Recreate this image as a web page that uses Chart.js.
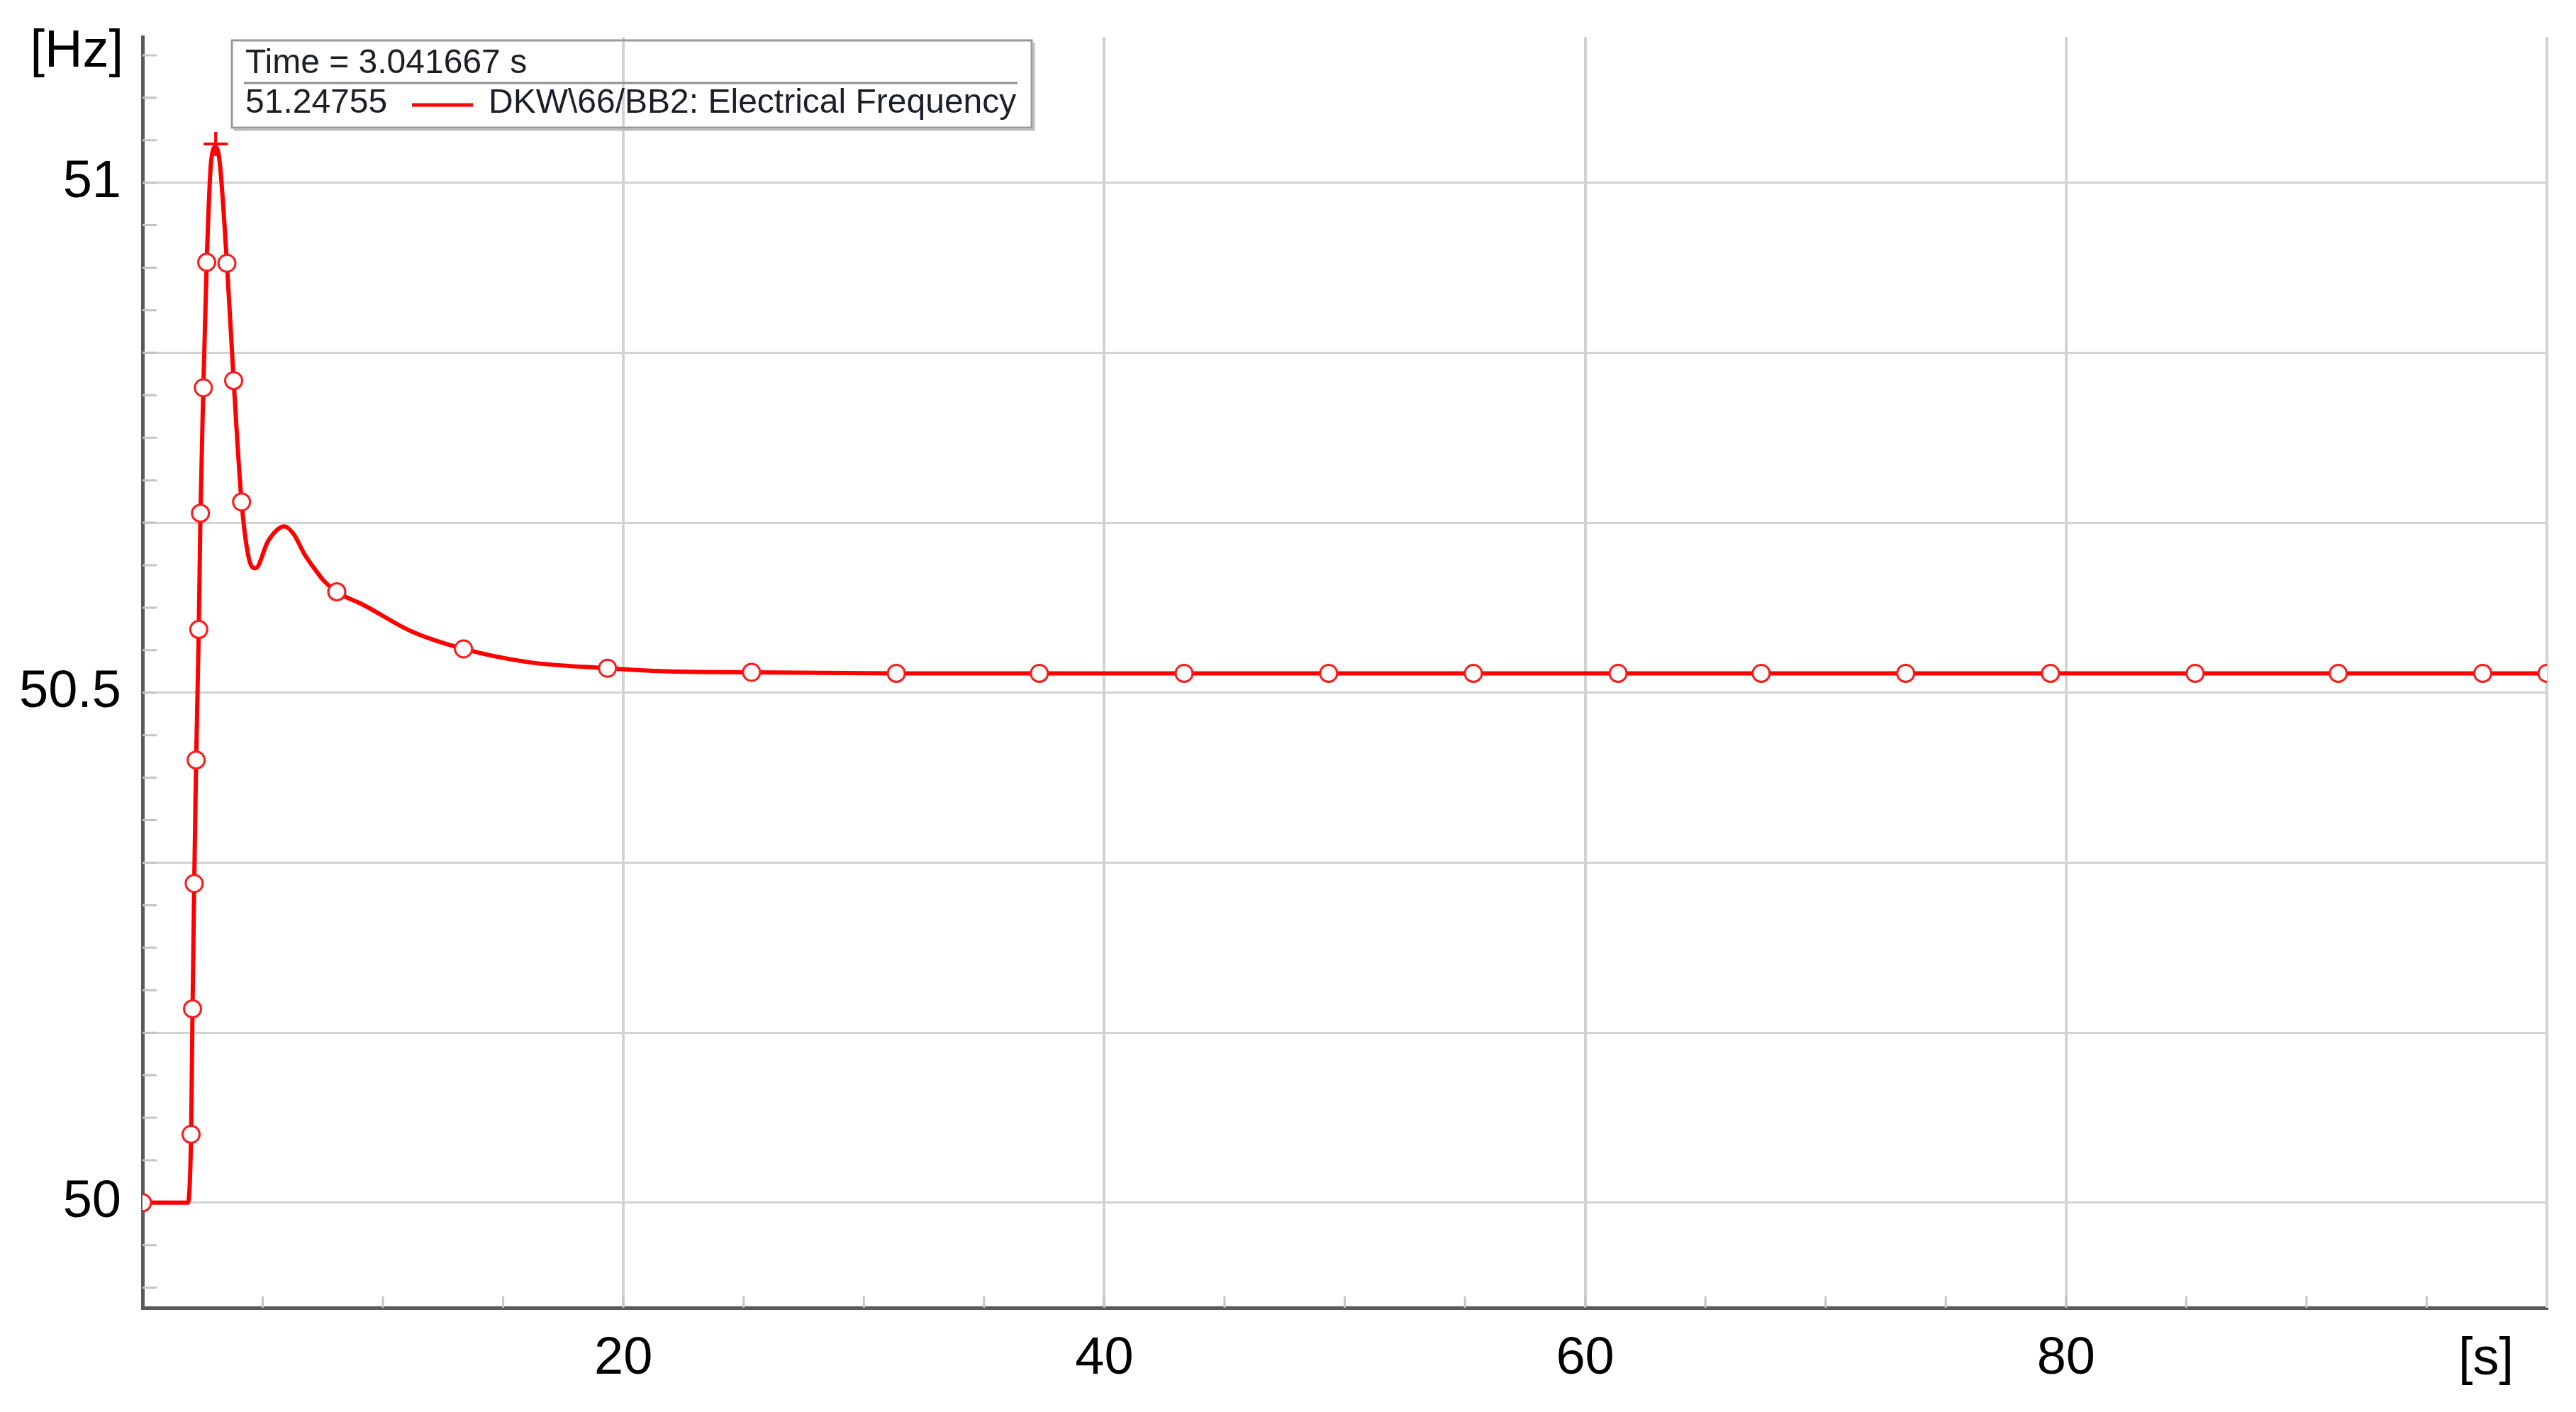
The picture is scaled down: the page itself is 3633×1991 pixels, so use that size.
<!DOCTYPE html>
<html>
<head>
<meta charset="utf-8">
<title>DKW\66/BB2 Electrical Frequency</title>
<script src="https://cdn.jsdelivr.net/npm/chart.js@4.4.1/dist/chart.umd.min.js"></script>
<style>
  html, body { margin: 0; padding: 0; background: #fff; }
  #wrap { width: 3633px; height: 1991px; position: relative; }
</style>
</head>
<body>
<div id="wrap"><canvas id="chart"></canvas></div>
<script>
// Curve (time in s, frequency in Hz).
const timeS = [
  0, 1.88, 2.02, 2.08, 2.15, 2.23, 2.34, 2.41, 2.53, 2.67, 2.85, 3.04,
  3.21, 3.51, 3.79, 4.12, 4.42, 4.70, 5.23, 5.90, 6.30, 6.73, 7.20, 7.57,
  8.08, 9.27, 11.2, 13.35, 16.04, 19.34, 21.69, 25.32, 31.3, 100,
];
const freqHz = [
  50.0, 50.0, 50.067, 50.19, 50.313, 50.434, 50.562, 50.676, 50.799, 50.922, 51.02, 51.035,
  51.02, 50.921, 50.806, 50.687, 50.632, 50.622, 50.649, 50.663, 50.655, 50.636, 50.620, 50.609,
  50.599, 50.585, 50.560, 50.543, 50.530, 50.524, 50.521, 50.520, 50.519, 50.519,
];

// Hollow curve symbols as placed on the plot.
const markerTimeS = [
  0, 2.02, 2.08, 2.15, 2.23, 2.34, 2.41, 2.53, 2.67, 3.51, 3.79, 4.12,
  8.08, 13.35, 19.34, 25.33, 31.35, 37.30, 43.32, 49.33, 55.35, 61.37,
  67.32, 73.33, 79.35, 85.37, 91.32, 97.33, 100,
];
const markerFreqHz = [
  50.0, 50.067, 50.19, 50.313, 50.434, 50.562, 50.676, 50.799, 50.922, 50.921, 50.806, 50.687,
  50.599, 50.543, 50.524, 50.520, 50.519, 50.519, 50.519, 50.519, 50.519, 50.519,
  50.519, 50.519, 50.519, 50.519, 50.519, 50.519, 50.519,
];

// Cursor ("+") and its readout box.
const cursorTime = 3.041667;
const cursorFreq = 51.038;
const cursorText = "Time = 3.041667 s";
const cursorValueText = "51.24755";
const seriesName = "DKW\\66/BB2: Electrical Frequency";

const xLabelTicks = [20, 40, 60, 80];
const yLabelTicks = [50, 50.5, 51];
const xUnit = "[s]";
const yUnit = "[Hz]";

const X_MIN = 0, X_MAX = 100;
const Y_MIN = 49.897, Y_MAX = 51.143;

const RED = "#ff0000";
const GRID = "#d3d3d3";
const AXIS_FONT = "'Liberation Sans Narrow', 'Liberation Sans', Arial, sans-serif";
const BOX_FONT = "'Liberation Sans', Arial, sans-serif";
const AXIS_SIZE = 74;

// y: minor step is 1/24 Hz, every 4th one carries a grid line
const yStepIndex = (v) => Math.round((v - 50) * 24);

// keep the plot frame fixed, no extra room for edge labels
const noEdgePadding = (s) => {
  s.paddingTop = 0;
  s.paddingBottom = 0;
  s.paddingLeft = 0;
  s.paddingRight = 0;
};

const extras = {
  id: "extras",
  beforeDatasetsDraw(chart) {
    const { ctx, chartArea: a, scales } = chart;
    ctx.save();
    ctx.strokeStyle = "#c4c4c4";
    ctx.lineWidth = 3;
    ctx.beginPath();
    scales.y.ticks.forEach((t) => {
      const y = scales.y.getPixelForValue(t.value);
      ctx.moveTo(a.left, y);
      ctx.lineTo(a.left + 20, y);
    });
    scales.x.ticks.forEach((t) => {
      if (t.value <= X_MIN || t.value >= X_MAX) return;
      const x = scales.x.getPixelForValue(t.value);
      ctx.moveTo(x, a.bottom);
      ctx.lineTo(x, a.bottom - 16);
    });
    ctx.stroke();
    // right frame edge
    ctx.strokeStyle = GRID;
    ctx.lineWidth = 4;
    ctx.beginPath();
    ctx.moveTo(a.right, a.top);
    ctx.lineTo(a.right, a.bottom);
    ctx.stroke();
    ctx.restore();
  },
  afterDraw(chart) {
    const { ctx, chartArea: a } = chart;
    ctx.save();
    // unit labels
    ctx.fillStyle = "#000";
    ctx.font = AXIS_SIZE + "px " + AXIS_FONT;
    ctx.textBaseline = "middle";
    ctx.textAlign = "right";
    ctx.fillText(yUnit, a.left - 27, a.top + 22);
    ctx.textAlign = "center";
    ctx.fillText(xUnit, a.right - 86, a.bottom + 74);

    // cursor readout box
    const bx = a.left + 126, by = a.top + 5, bw = 1128, bh = 123;
    ctx.strokeStyle = "#9a9a9a";
    ctx.lineWidth = 3;
    ctx.strokeRect(bx, by, bw, bh);
    ctx.strokeStyle = "#bdbdbd";
    ctx.beginPath();
    ctx.moveTo(bx + 3, by + bh + 3);
    ctx.lineTo(bx + bw + 3, by + bh + 3);
    ctx.lineTo(bx + bw + 3, by + 3);
    ctx.stroke();

    ctx.strokeStyle = "#8f8f8f";
    ctx.lineWidth = 3;
    ctx.beginPath();
    ctx.moveTo(bx + 17, by + 60);
    ctx.lineTo(bx + bw - 20, by + 60);
    ctx.stroke();

    ctx.fillStyle = "#1e1e28";
    ctx.font = "48px " + BOX_FONT;
    ctx.textAlign = "left";
    ctx.textBaseline = "alphabetic";
    ctx.fillText(cursorText, bx + 19, by + 46);
    ctx.fillText(cursorValueText, bx + 19, by + 102);
    ctx.fillText(seriesName, bx + 362, by + 102);

    ctx.strokeStyle = RED;
    ctx.lineWidth = 5;
    ctx.beginPath();
    ctx.moveTo(bx + 254, by + 91);
    ctx.lineTo(bx + 340, by + 91);
    ctx.stroke();
    ctx.restore();
  },
};

const toPoints = (xs, ys) => xs.map((x, i) => ({ x, y: ys[i] }));

new Chart(document.getElementById("chart"), {
  type: "scatter",
  data: {
    datasets: [
      {
        label: "cursor",
        data: [{ x: cursorTime, y: cursorFreq }],
        pointStyle: "cross",
        pointRadius: 17,
        pointBorderWidth: 4,
        pointBorderColor: RED,
        order: 0,
      },
      {
        label: "symbols",
        data: toPoints(markerTimeS, markerFreqHz),
        showLine: false,
        pointRadius: 12,
        pointBorderWidth: 3,
        pointBorderColor: "#ff1a1a",
        pointBackgroundColor: "#ffffff",
        clip: 0,
        order: 1,
      },
      {
        label: seriesName,
        data: toPoints(timeS, freqHz),
        showLine: true,
        borderColor: RED,
        borderWidth: 6,
        pointRadius: 0,
        cubicInterpolationMode: "monotone",
        order: 2,
      },
    ],
  },
  options: {
    responsive: true,
    maintainAspectRatio: false,
    animation: false,
    devicePixelRatio: 1,
    layout: { padding: { top: 52, right: 41, left: 0, bottom: 0 } },
    plugins: {
      legend: { display: false },
      tooltip: { enabled: false },
    },
    scales: {
      x: {
        type: "linear",
        min: X_MIN,
        max: X_MAX,
        afterBuildTicks: (s) => {
          const ticks = [];
          for (let v = X_MIN; v <= X_MAX; v += 5) ticks.push({ value: v });
          s.ticks = ticks;
        },
        afterFit: (s) => { s.height = 147; noEdgePadding(s); },
        border: { color: "#5a5a5a", width: 5 },
        grid: {
          drawTicks: false,
          lineWidth: 4,
          color: (c) =>
            c.tick && c.tick.value % 20 === 0 && c.tick.value > X_MIN && c.tick.value < X_MAX
              ? GRID : "rgba(0,0,0,0)",
        },
        ticks: {
          autoSkip: false,
          maxRotation: 0,
          padding: 28,
          color: "#000",
          font: { family: AXIS_FONT, size: AXIS_SIZE },
          callback: (v) => (xLabelTicks.includes(v) ? String(v) : ""),
        },
      },
      y: {
        type: "linear",
        min: Y_MIN,
        max: Y_MAX,
        afterBuildTicks: (s) => {
          const ticks = [];
          for (let k = -2; k <= 27; k++) ticks.push({ value: 50 + k / 24 });
          s.ticks = ticks;
        },
        afterFit: (s) => { s.width = 201; noEdgePadding(s); },
        border: { color: "#5a5a5a", width: 5 },
        grid: {
          drawTicks: false,
          lineWidth: 3,
          color: (c) =>
            c.tick && yStepIndex(c.tick.value) % 4 === 0 ? GRID : "rgba(0,0,0,0)",
        },
        ticks: {
          autoSkip: false,
          padding: 30,
          color: "#000",
          font: { family: AXIS_FONT, size: AXIS_SIZE },
          callback: (v) => {
            const hit = yLabelTicks.find((t) => Math.abs(t - v) < 1e-6);
            return hit === undefined ? "" : String(hit);
          },
        },
      },
    },
  },
  plugins: [extras],
});
</script>
</body>
</html>
